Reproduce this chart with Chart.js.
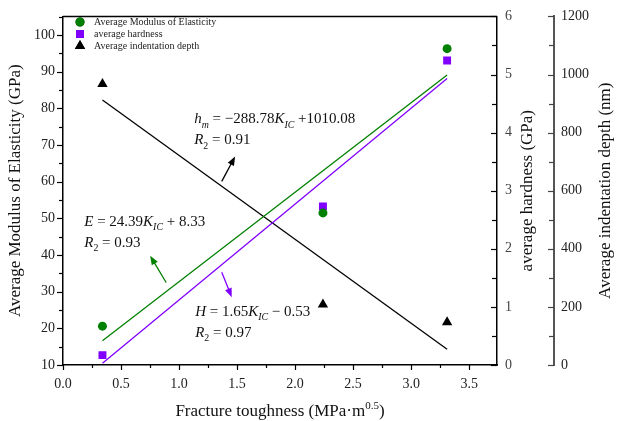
<!DOCTYPE html>
<html>
<head>
<meta charset="utf-8">
<script src="https://cdn.jsdelivr.net/npm/chart.js@4.4.0/dist/chart.umd.min.js"></script>
<style>
  html, body { margin: 0; padding: 0; background: #fff; }
</style>
</head>
<body>
<canvas id="chart" width="621" height="421"></canvas>
<script>
// measured points
const kic = [0.34, 2.24, 3.31];
const modulus = [20.6, 51.5, 96.3];
const hardness = [0.17, 2.73, 5.24];
const depth = [967, 208, 147];

// fitted lines, end points
const fitX = [0.34, 3.31];
const fitModulus = [16.6, 89.1];
const fitHardness = [0.03, 4.93];
const fitDepth = [912, 54];

// tick labels
const xTicks = [0, 0.5, 1, 1.5, 2, 2.5, 3, 3.5];
const modulusTicks = [10, 20, 30, 40, 50, 60, 70, 80, 90, 100];
const hardnessTicks = [0, 1, 2, 3, 4, 5, 6];
const depthTicks = [0, 200, 400, 600, 800, 1000, 1200];

const SERIF = '"Liberation Serif", "DejaVu Serif", serif';
const GREEN = '#008000';
const PURPLE = '#8000ff';

// fit equations, placed in (x, modulus) units
const equations = [
  { x: 1.13, y: 75.9, runs: [['h', 'i'], ['m', 'si'], [' = \u2212288.78', ''], ['K', 'i'], ['IC', 'si'], [' +1010.08', '']] },
  { x: 1.13, y: 70.2, runs: [['R', 'i'], ['2', 's'], [' = 0.91', '']] },
  { x: 0.183, y: 47.9, runs: [['E', 'i'], [' = 24.39', ''], ['K', 'i'], ['IC', 'si'], [' + 8.33', '']] },
  { x: 0.183, y: 42.2, runs: [['R', 'i'], ['2', 's'], [' = 0.93', '']] },
  { x: 1.139, y: 23.5, runs: [['H', 'i'], [' = 1.65', ''], ['K', 'i'], ['IC', 'si'], [' \u2212 0.53', '']] },
  { x: 1.139, y: 17.6, runs: [['R', 'i'], ['2', 's'], [' = 0.97', '']] }
];

const arrows = [
  { from: [1.368, 60.1], to: [1.483, 66.9], color: '#000' },
  { from: [0.889, 32.5], to: [0.751, 39.8], color: GREEN },
  { from: [1.368, 35.3], to: [1.454, 28.5], color: PURPLE }
];

const pts = (xs, ys) => xs.map((v, i) => ({ x: v, y: ys[i] }));
const fixTicks = list => scale => { scale.ticks = list.map(v => ({ value: v })); };

const drawRuns = (ctx, runs, x, y, size) => {
  let cx = x;
  runs.forEach(([text, style]) => {
    const italic = style.includes('i');
    const sub = style.includes('s');
    const fs = sub ? size * 0.66 : size;
    ctx.font = (italic ? 'italic ' : '') + fs + 'px ' + SERIF;
    ctx.fillText(text, cx, y + (sub ? size * 0.28 : 0));
    cx += ctx.measureText(text).width;
  });
};

const decor = {
  id: 'decor',
  afterDraw(chart) {
    const { ctx, chartArea: a, scales } = chart;
    const { x, y, yH, yD } = scales;
    ctx.save();

    // top frame
    ctx.strokeStyle = '#000';
    ctx.lineWidth = 1.5;
    ctx.beginPath();
    ctx.moveTo(a.left, a.top);
    ctx.lineTo(a.right, a.top);
    ctx.stroke();

    // tick marks (major + minor)
    const marks = (scale, list, len, minorLen, color, width) => {
      const step = list[1] - list[0];
      const minor = list.map(v => v + step / 2).filter(v => v < scale.max);
      ctx.strokeStyle = color;
      ctx.lineWidth = width;
      [[list, len], [minor, minorLen]].forEach(([vals, l]) => {
        vals.forEach(v => {
          const p = Math.round(scale.getPixelForValue(v)) + 0.5;
          ctx.beginPath();
          if (scale.isHorizontal()) {
            ctx.moveTo(p, a.bottom);
            ctx.lineTo(p, a.bottom + l);
          } else {
            const edge = scale.position === 'left' ? scale.right : scale.left;
            ctx.moveTo(edge, p);
            ctx.lineTo(edge - l, p);
          }
          ctx.stroke();
        });
      });
    };
    marks(x, xTicks, 5, 3, '#000', 1.2);
    marks(y, modulusTicks, 6, 4, '#000', 1.2);
    marks(yH, hardnessTicks, 6, 5, '#000', 1.2);
    marks(yD, depthTicks, 6, 5, '#444', 1.2);

    // axis titles
    ctx.fillStyle = '#111';
    ctx.textAlign = 'center';
    ctx.textBaseline = 'middle';
    ctx.font = '17px ' + SERIF;
    const midY = (a.top + a.bottom) / 2;
    [[16, 'Average Modulus of Elasticity (GPa)'],
     [528, 'average hardness (GPa)'],
     [606, 'Average indentation depth (nm)']].forEach(([cx, t]) => {
      ctx.save();
      ctx.translate(cx, midY);
      ctx.rotate(-Math.PI / 2);
      ctx.fillText(t, 0, 0);
      ctx.restore();
    });

    // x title with superscript
    ctx.textAlign = 'left';
    ctx.textBaseline = 'alphabetic';
    const main = 'Fracture toughness (MPa\u00b7m';
    ctx.font = '17px ' + SERIF;
    const w1 = ctx.measureText(main).width;
    ctx.font = '11px ' + SERIF;
    const w2 = ctx.measureText('0.5').width;
    ctx.font = '17px ' + SERIF;
    const w3 = ctx.measureText(')').width;
    let tx = (a.left + a.right) / 2 - (w1 + w2 + w3) / 2;
    const ty = 416;
    ctx.fillText(main, tx, ty);
    ctx.font = '11px ' + SERIF;
    ctx.fillText('0.5', tx + w1, ty - 7);
    ctx.font = '17px ' + SERIF;
    ctx.fillText(')', tx + w1 + w2, ty);

    // legend
    const ds = chart.data.datasets.slice(0, 3);
    ds.forEach((d, i) => {
      const ly = 22 + i * 12;
      Chart.helpers.drawPoint(ctx, {
        pointStyle: d.pointStyle, radius: d.pointRadius, rotation: 0,
        borderWidth: 0
      }, 80, ly);
      ctx.fillStyle = d.backgroundColor;
      ctx.fill();
      ctx.fillStyle = '#222';
      ctx.font = '10px ' + SERIF;
      ctx.textBaseline = 'middle';
      ctx.fillText(d.label, 94, ly);
    });

    // equations
    ctx.fillStyle = '#111';
    ctx.textBaseline = 'alphabetic';
    equations.forEach(eq => {
      drawRuns(ctx, eq.runs, x.getPixelForValue(eq.x), y.getPixelForValue(eq.y), 15);
    });

    // arrows
    arrows.forEach(ar => {
      const x1 = x.getPixelForValue(ar.from[0]), y1 = y.getPixelForValue(ar.from[1]);
      const x2 = x.getPixelForValue(ar.to[0]), y2 = y.getPixelForValue(ar.to[1]);
      const ang = Math.atan2(y2 - y1, x2 - x1);
      ctx.strokeStyle = ar.color;
      ctx.fillStyle = ar.color;
      ctx.lineWidth = 1.3;
      ctx.beginPath();
      ctx.moveTo(x1, y1);
      ctx.lineTo(x2 - 6 * Math.cos(ang), y2 - 6 * Math.sin(ang));
      ctx.stroke();
      ctx.beginPath();
      ctx.moveTo(x2, y2);
      ctx.lineTo(x2 - 9 * Math.cos(ang) + 3.5 * Math.sin(ang), y2 - 9 * Math.sin(ang) - 3.5 * Math.cos(ang));
      ctx.lineTo(x2 - 9 * Math.cos(ang) - 3.5 * Math.sin(ang), y2 - 9 * Math.sin(ang) + 3.5 * Math.cos(ang));
      ctx.closePath();
      ctx.fill();
    });

    ctx.restore();
  }
};

const tickFont = { family: SERIF, size: 14 };

new Chart(document.getElementById('chart'), {
  type: 'scatter',
  data: {
    datasets: [
      {
        label: 'Average Modulus of Elasticity',
        data: pts(kic, modulus),
        yAxisID: 'y',
        pointStyle: 'circle',
        pointRadius: 4.5,
        backgroundColor: GREEN,
        borderWidth: 0
      },
      {
        label: 'average hardness',
        data: pts(kic, hardness),
        yAxisID: 'yH',
        pointStyle: 'rect',
        pointRadius: 5.6,
        backgroundColor: PURPLE,
        borderWidth: 0
      },
      {
        label: 'Average indentation depth',
        data: pts(kic, depth),
        yAxisID: 'yD',
        pointStyle: 'triangle',
        pointRadius: 6,
        backgroundColor: '#000',
        borderWidth: 0
      },
      {
        label: 'E fit',
        data: pts(fitX, fitModulus),
        yAxisID: 'y',
        showLine: true,
        pointRadius: 0,
        borderColor: GREEN,
        borderWidth: 1.3
      },
      {
        label: 'H fit',
        data: pts(fitX, fitHardness),
        yAxisID: 'yH',
        showLine: true,
        pointRadius: 0,
        borderColor: PURPLE,
        borderWidth: 1.3
      },
      {
        label: 'h fit',
        data: pts(fitX, fitDepth),
        yAxisID: 'yD',
        showLine: true,
        pointRadius: 0,
        borderColor: '#000',
        borderWidth: 1.3
      }
    ]
  },
  options: {
    responsive: false,
    animation: false,
    devicePixelRatio: 1,
    layout: { padding: { top: 14, left: 0, right: 0, bottom: 0 } },
    plugins: {
      legend: { display: false },
      tooltip: { enabled: false }
    },
    scales: {
      x: {
        type: 'linear',
        min: 0,
        max: 3.74,
        afterBuildTicks: fixTicks(xTicks),
        afterFit: s => { s.height = 56; },
        ticks: { font: tickFont, color: '#222', padding: 11, autoSkip: false, maxRotation: 0,
                 callback: v => v.toFixed(1) },
        grid: { display: false, drawTicks: false },
        border: { color: '#000', width: 1.5 }
      },
      y: {
        position: 'left',
        min: 10,
        max: 105.1,
        afterBuildTicks: fixTicks(modulusTicks),
        afterFit: s => { s.width = 63; },
        ticks: { font: tickFont, color: '#222', padding: 8, autoSkip: false, callback: v => String(v) },
        grid: { display: false, drawTicks: false },
        border: { color: '#000', width: 1.5 }
      },
      yH: {
        position: 'right',
        min: 0,
        max: 6,
        afterBuildTicks: fixTicks(hardnessTicks),
        afterFit: s => { s.width = 57; },
        ticks: { font: tickFont, color: '#444', padding: 8, autoSkip: false, callback: v => String(v) },
        grid: { display: false, drawTicks: false },
        border: { color: '#000', width: 1.5 }
      },
      yD: {
        position: 'right',
        min: 0,
        max: 1200,
        afterBuildTicks: fixTicks(depthTicks),
        afterFit: s => { s.width = 67; },
        ticks: { font: tickFont, color: '#222', padding: 7, autoSkip: false, callback: v => String(v) },
        grid: { display: false, drawTicks: false },
        border: { color: '#555', width: 2 }
      }
    }
  },
  plugins: [decor]
});
</script>
</body>
</html>
